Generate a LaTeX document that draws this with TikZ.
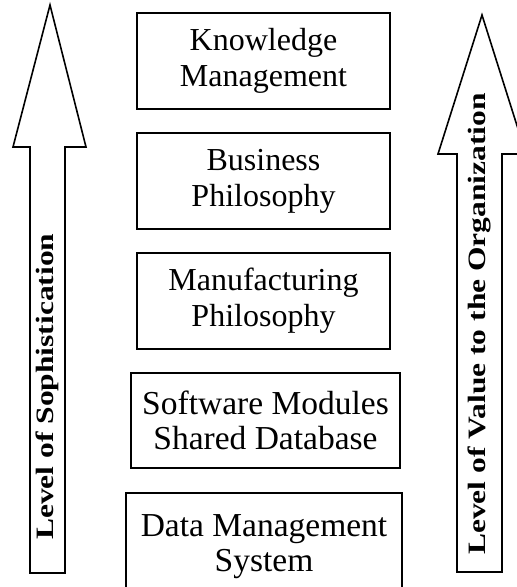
\documentclass[tikz,border=0pt]{standalone}
\usepackage{fontspec}
\usepackage{graphicx}
\setmainfont{Liberation Serif}
\begin{document}
\begin{tikzpicture}[x=1pt,y=-1pt,
  level/.style={draw=black, line width=1.6pt, fill=white, inner sep=0pt,
    align=center, font=\fontsize{32}{36}\selectfont},
  widelevel/.style={level, font=\fontsize{33.5}{35}\selectfont},
  bigarrow/.style={draw=black, line width=1.6pt, line join=miter},
  axislabel/.style={rotate=90, anchor=base west, inner sep=0pt,
    font=\fontsize{25}{28}\selectfont\bfseries}]
\useasboundingbox (0,0) rectangle (517,587);
\fill[white] (0,0) rectangle (517,587);
\clip (0,0) rectangle (517,587);

% stacked levels, top to bottom
\node[level, minimum width=253pt, minimum height=96pt] (km) at (263.5,61)
  {Knowledge\\Management};
\node[level, minimum width=253pt, minimum height=96pt] (bp) at (263.5,181)
  {Business\\Philosophy};
\node[level, minimum width=253pt, minimum height=96pt] (mp) at (263.5,301)
  {Manufacturing\\Philosophy};
\node[widelevel, minimum width=269pt, minimum height=95pt] (sm) at (265.5,420.5)
  {Software Modules\\Shared Database};
\node[widelevel, minimum width=276pt, minimum height=107pt] (dm) at (264,546.5)
  {Data Management\\System};

% left block arrow
\draw[bigarrow] (50,5) -- (86,147) -- (65,147) -- (65,573) -- (30,573)
  -- (30,147) -- (13,147) -- cycle;
\node[axislabel] (soph) at (53,540)
  {\scalebox{1.26}[1]{Level of Sophistication}};

% right block arrow
\draw[bigarrow] (482,15) -- (526,154) -- (502,154) -- (502,572) -- (457,572)
  -- (457,154) -- (438,154) -- cycle;
\node[axislabel] (value) at (485,555)
  {\scalebox{1.26}[1]{Level of Value to the Organization}};
\end{tikzpicture}
\end{document}
